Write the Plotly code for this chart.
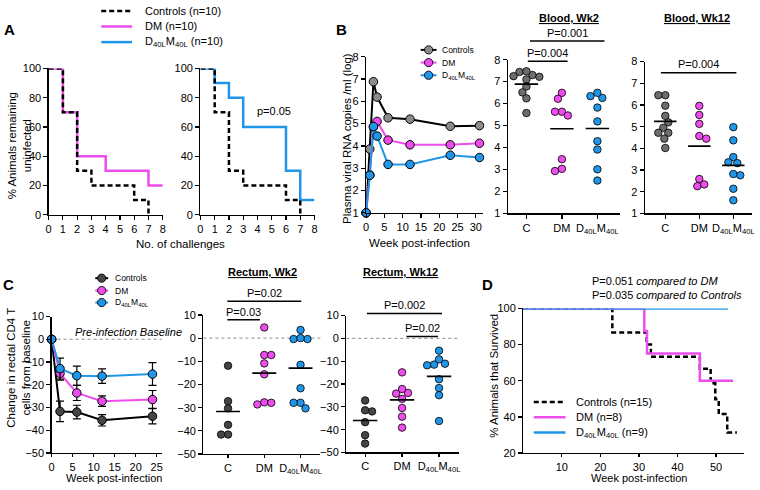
import numpy as np
import plotly.graph_objects as go

W, H = 760, 490
FONT = "Arial, 'Liberation Sans', Helvetica, sans-serif"
PINK = "#EC4DEC"
BLUE = "#2196E8"
GREY_MK = "#8C8C8C"
GREY_DOT = "#6E6E6E"
GREY_DARK = "#454545"
DASH = "5px,3px"
D40 = "D<sub>40L</sub>M<sub>40L</sub>"
CATS = ["C", "DM", D40]

# ---------------- data ----------------
# A: % animals remaining uninfected vs number of challenges
A_ctrl_x = [0, 1, 2, 3, 6, 7]
A_ctrl_y = [100, 70, 30, 20, 10, 0]
A_dm_x = [0, 1, 2, 4, 7, 8]
A_dm_y = [100, 70, 40, 30, 20, 20]
A_d40_x = [0, 1, 2, 3, 6, 7, 8]
A_d40_y = [100, 90, 80, 60, 30, 10, 10]
A_xticks = list(range(0, 9))
A_yticks = [0, 20, 40, 60, 80, 100]

# B: plasma viral RNA (log copies/ml), group means
B_weeks = [0, 1, 2, 3, 6, 12, 23, 31]
B_ctrl = [1.0, 3.86, 6.88, 6.19, 5.26, 5.20, 4.88, 4.91]
B_dm = [1.0, 2.70, 4.85, 5.10, 4.26, 4.05, 4.05, 4.12]
B_d40 = [1.0, 2.68, 4.87, 4.44, 3.17, 3.17, 3.58, 3.48]
B_xticks = [0, 5, 10, 15, 20, 25, 30]
B_yticks = [1, 2, 3, 4, 5, 6, 7, 8]

# Blood Wk2 / Wk12 individual animals (log copies/ml)
BW2_C = [7.44, 7.22, 7.30, 7.25, 7.47, 7.10, 6.78, 6.51, 6.24, 5.57]
BW2_DM = [6.49, 6.22, 5.63, 5.63, 5.46, 3.47, 2.93, 3.03]
BW2_D40 = [6.34, 6.26, 6.49, 5.82, 5.19, 4.29, 3.91, 3.01, 2.50]
BW12_C = [6.45, 6.45, 5.97, 5.50, 5.20, 4.95, 4.72, 4.72, 4.45, 4.02]
BW12_DM = [5.96, 5.54, 5.13, 4.57, 4.45, 2.59, 2.26, 2.34]
BW12_D40 = [4.98, 4.37, 3.60, 3.36, 3.32, 2.76, 2.82, 2.14, 1.61]

# C: change in rectal CD4 T cells from baseline (mean +/- SEM)
C_weeks = [0, 2, 6, 12, 24]
C_ctrl = [0, -31.7, -32.0, -35.6, -33.8]
C_ctrl_err = [0, 4.5, 3.0, 2.5, 3.4]
C_dm = [0, -15.0, -23.6, -27.2, -26.5]
C_dm_err = [0, 3.0, 3.3, 2.3, 4.0]
C_d40 = [0, -12.9, -16.0, -16.2, -15.3]
C_d40_err = [0, 4.6, 4.2, 3.2, 5.0]
C_xticks = [0, 5, 10, 15, 20, 25]
C_yticks = [-50, -40, -30, -20, -10, 0, 10]

# Rectum Wk2 / Wk12 individual animals
RW2_C = [-11.9, -27.2, -30.3, -37.4, -41.6, -41.6]
RW2_DM = [4.6, -7.3, -7.3, -10.9, -15.6, -27.7, -28.6, -27.9]
RW2_D40 = [3.5, -0.4, -0.4, 0.0, -11.5, -21.6, -27.9, -27.9, -30.3]
RW12_C = [-27.2, -32.0, -31.5, -36.7, -42.4, -46.1]
RW12_DM = [-14.9, -23.9, -24.2, -22.2, -26.5, -30.5, -34.3, -39.1]
RW12_D40 = [-5.4, -9.2, -11.5, -11.1, -11.8, -17.9, -21.8, -24.9, -36.2]

# D: % animals that survived
D_ctrl_t = [0, 23.1, 32.0, 33.1, 45.8, 48.6, 49.8, 50.7, 52.9, 55.4]
D_ctrl_s = [100, 86.7, 80.0, 73.3, 66.7, 58.6, 49.8, 41.6, 31.4, 31.4]
D_dm_t = [0, 31.4, 32.1, 45.8, 54.4]
D_dm_s = [100, 87.5, 75.0, 60.0, 60.0]
D_d40_t = [0, 53.1]
D_d40_s = [100, 100]
D_xticks = [10, 20, 30, 40, 50]
D_yticks = [20, 40, 60, 80, 100]

# ---------------- figure ----------------
fig = go.Figure()
AX = {}


def add_axes(name, left, right, top, bottom, xr, yr, xt, yt, xtt=None, xticklen=4):
    n = len(AX) + 1
    s = '' if n == 1 else str(n)
    base = dict(showline=True, linecolor='black', linewidth=1.3, ticks='outside',
                ticklen=4, tickwidth=1.2, tickcolor='black', showgrid=False,
                zeroline=False, fixedrange=True,
                tickfont=dict(family=FONT, size=11, color='black'))
    xa = dict(base, domain=[left / W, right / W], range=xr, anchor='y' + s,
              tickmode='array', tickvals=xt, ticklen=xticklen)
    if xtt is not None:
        xa['ticktext'] = xtt
    ya = dict(base, domain=[1 - bottom / H, 1 - top / H], range=yr, anchor='x' + s,
              tickmode='array', tickvals=yt)
    fig.update_layout(**{'xaxis' + s: xa, 'yaxis' + s: ya})
    AX[name] = dict(x='x' + s, y='y' + s,
                    ppx=(right - left) / (xr[1] - xr[0]),
                    ppy=(bottom - top) / (yr[1] - yr[0]))


add_axes('A1', 46, 161, 64, 214, [0, 8], [0, 100], A_xticks, A_yticks)
add_axes('A2', 199, 314, 64, 214, [0, 8], [0, 100], A_xticks, A_yticks)
add_axes('B', 366, 484, 52, 212, [0, 32], [1, 8], B_xticks, B_yticks)
add_axes('BW2', 509, 622, 55, 212.7, [-0.52, 2.64], [1, 8], [0, 1, 2], B_yticks, CATS)
add_axes('BW12', 647, 755, 57, 212.7, [-0.6, 2.55], [1, 8], [0, 1, 2], B_yticks, CATS)
add_axes('C', 49, 160, 318.3, 458.3, [0, 26.2], [-50, 10], C_xticks, C_yticks, xticklen=3)
add_axes('RW2', 202, 320, 316.7, 459.3, [-0.68, 2.55], [-50, 10], [0, 1, 2], C_yticks, CATS, xticklen=3)
add_axes('RW12', 346, 460, 317.3, 457.7, [-0.51, 2.55], [-50, 10], [0, 1, 2], C_yticks, CATS, xticklen=3)
add_axes('D', 524.4, 746.7, 310, 458.3, [0, 57.2], [20, 100], D_xticks, D_yticks, xticklen=3)


def trace(name, **kw):
    ax = AX[name]
    kw.setdefault('showlegend', False)
    kw.setdefault('hoverinfo', 'skip')
    kw.setdefault('cliponaxis', False)
    fig.add_trace(go.Scatter(xaxis=ax['x'], yaxis=ax['y'], **kw))


def step(name, x, y, color, dash=None, width=2.5):
    trace(name, x=x, y=y, mode='lines',
          line=dict(shape='hv', color=color, width=width, dash=dash))


# Panel A
step('A1', A_dm_x, A_dm_y, PINK)
step('A1', A_ctrl_x, A_ctrl_y, 'black', DASH)
step('A2', A_d40_x, A_d40_y, BLUE)
step('A2', A_ctrl_x, A_ctrl_y, 'black', DASH)


# Panel B line
def line_mk(name, x, y, lcol, mcol, err=None, size=8.5):
    kw = {}
    if err is not None:
        kw['error_y'] = dict(type='data', array=err, color='black', thickness=1.2, width=4)
    trace(name, x=x, y=y, mode='lines+markers', line=dict(color=lcol, width=2),
          marker=dict(size=size, color=mcol, line=dict(color='black', width=1)), **kw)


line_mk('B', B_weeks, B_ctrl, 'black', GREY_MK)
line_mk('B', B_weeks, B_dm, PINK, PINK)
line_mk('B', B_weeks, B_d40, BLUE, BLUE)


# beeswarm placement of individual points (computed in pixel space)
def swarm(vals, ppx, ppy, d=7.0, stepx=1.0):
    vals = np.asarray(vals, float)
    order = np.argsort(-vals, kind='stable')
    placed = []
    off = np.zeros(len(vals))
    for j, i in enumerate(order):
        yp = vals[i] * ppy
        k = 0
        chosen = None
        while chosen is None:
            if k == 0:
                cands = [0.0]
            else:
                cands = [-k * stepx, k * stepx] if j % 2 else [k * stepx, -k * stepx]
            for c in cands:
                if all((c - a) ** 2 + (yp - b) ** 2 >= d * d for a, b in placed):
                    chosen = c
                    break
            k += 1
        placed.append((chosen, yp))
        off[i] = chosen / ppx
    return off


def dotplot(name, groups, colors, size=7.5):
    ax = AX[name]
    for i, (vals, col) in enumerate(zip(groups, colors)):
        off = swarm(vals, ax['ppx'], ax['ppy'])
        trace(name, x=i + off, y=vals, mode='markers',
              marker=dict(size=size, color=col, line=dict(color='black', width=0.8)))
        m = float(np.mean(vals))
        trace(name, x=[i - 0.33, i + 0.33], y=[m, m], mode='lines',
              line=dict(color='black', width=1.6))


dotplot('BW2', [BW2_C, BW2_DM, BW2_D40], [GREY_DOT, PINK, BLUE])
dotplot('BW12', [BW12_C, BW12_DM, BW12_D40], [GREY_DOT, PINK, BLUE])

# Panel C line
for nm in ['C', 'RW2', 'RW12']:
    xr = AX[nm]['x']
    fig.add_shape(type='line', xref=xr + ' domain', yref=AX[nm]['y'], x0=0, x1=1, y0=0, y1=0,
                  line=dict(color='#8a8a8a', width=1, dash='dot'), layer='below')
line_mk('C', C_weeks, C_ctrl, 'black', GREY_DARK, C_ctrl_err)
line_mk('C', C_weeks, C_dm, PINK, PINK, C_dm_err)
line_mk('C', C_weeks, C_d40, BLUE, BLUE, C_d40_err)

dotplot('RW2', [RW2_C, RW2_DM, RW2_D40], [GREY_DARK, PINK, BLUE])
dotplot('RW12', [RW12_C, RW12_DM, RW12_D40], [GREY_DARK, PINK, BLUE])

# Panel D
step('D', D_ctrl_t, D_ctrl_s, 'black', DASH)
step('D', D_dm_t, D_dm_s, PINK)
step('D', D_d40_t, D_d40_s, BLUE)


# ---------------- annotations ----------------
def text(x, y, s, size=11, xanchor='center', yanchor='middle', angle=0):
    fig.add_annotation(x=x / W, y=1 - y / H, xref='paper', yref='paper', text=s,
                       showarrow=False, xanchor=xanchor, yanchor=yanchor, textangle=angle,
                       font=dict(size=size, family=FONT, color='black'))


def pbar(name, c0, c1, ybar, label):
    ax = AX[name]
    fig.add_shape(type='line', xref=ax['x'], yref='paper', x0=c0, x1=c1,
                  y0=1 - ybar / H, y1=1 - ybar / H, line=dict(color='black', width=1.5))
    fig.add_annotation(xref=ax['x'], yref='paper', x=(c0 + c1) / 2, y=1 - (ybar - 8.5) / H,
                       text=label, showarrow=False, xanchor='center', yanchor='middle',
                       font=dict(size=11, family=FONT, color='black'))


def leg_line(x0, x1, y, color, dash=None, width=2.5):
    fig.add_shape(type='line', xref='paper', yref='paper', x0=x0 / W, x1=x1 / W,
                  y0=1 - y / H, y1=1 - y / H, line=dict(color=color, width=width, dash=dash))


def leg_dot(cx, cy, fill, r=4.2):
    fig.add_shape(type='circle', xref='paper', yref='paper', x0=(cx - r) / W, x1=(cx + r) / W,
                  y0=1 - (cy + r) / H, y1=1 - (cy - r) / H, fillcolor=fill,
                  line=dict(color='black', width=0.9))


# panel letters
for L, x, y in [('A', 7, 24), ('B', 341, 24), ('C', 6, 285), ('D', 488, 285)]:
    text(x, y, '<b>' + L + '</b>', size=15)

# A legend
for y, col, dash, lab in [(5, 'black', DASH, 'Controls (n=10)'), (21, PINK, None, 'DM (n=10)'),
                          (37, BLUE, None, D40 + ' (n=10)')]:
    leg_line(99, 130, y, col, dash)
    text(141, y, lab, xanchor='left')
text(17, 143, '% Animals remaining<br>uninfected', size=11.5, angle=-90)
text(179, 244, 'No. of challenges', size=11.5)
text(273, 108, 'p=0.05')

# B legend & titles
for y, lcol, mcol, lab in [(45, 'black', GREY_MK, 'Controls'), (58, PINK, PINK, 'DM'),
                           (71, BLUE, BLUE, D40)]:
    leg_line(421, 437, y, lcol, None, 2)
    leg_dot(429, y, mcol)
    text(440, y, lab, size=8.5, xanchor='left')
text(346, 136, 'Plasma viral RNA copies /ml (log)', size=11.5, angle=-90)
text(420, 243, 'Week post-infection', size=11.5)

text(570, 12, '<b><u>Blood, Wk2</u></b>')
text(700, 12, '<b><u>Blood, Wk12</u></b>')
pbar('BW2', 0.1, 2.2, 36, 'P=0.001')
pbar('BW2', 0.04, 1.16, 56.7, 'P=0.004')
pbar('BW12', -0.13, 2.09, 68.3, 'P=0.004')

# C legend & titles
for y, lcol, mcol, lab in [(279, 'black', GREY_DARK, 'Controls'), (291.7, PINK, PINK, 'DM'),
                           (304, BLUE, BLUE, D40)]:
    leg_line(93, 106, y, lcol, None, 2)
    leg_dot(99.5, y, mcol)
    text(111, y, lab, size=8.5, xanchor='left')
text(16, 371, 'Change in rectal CD4 T<br>cells from baseline', size=11.5, angle=-90)
text(112, 483.5, 'Week post-infection', size=11)
text(127, 334, '<i>Pre-infection Baseline</i>')

text(262, 273, '<b><u>Rectum, Wk2</u></b>')
text(401, 273, '<b><u>Rectum, Wk12</u></b>')
pbar('RW2', -0.02, 2.02, 302.7, 'P=0.02')
pbar('RW2', -0.02, 0.88, 321.7, 'P=0.03')
pbar('RW12', 0.05, 2.08, 315.3, 'P=0.002')
pbar('RW12', 1.12, 1.97, 338.7, 'P=0.02')

# D legend & titles
for y, col, dash, lab in [(406, 'black', DASH, 'Controls (n=15)'), (421.7, PINK, None, 'DM (n=8)'),
                          (437.3, BLUE, None, D40 + ' (n=9)')]:
    leg_line(535, 567, y, col, dash)
    text(576, y, lab, xanchor='left')
text(592, 282, 'P=0.051 <i>compared to DM</i>', xanchor='left')
text(592, 296, 'P=0.035 <i>compared to Controls</i>', xanchor='left')
text(495, 379, '% Animals that Survived', size=11.5, angle=-90)
text(641, 483.5, 'Week post-infection', size=11)

fig.update_layout(width=W, height=H, margin=dict(l=0, r=0, t=0, b=0),
                  paper_bgcolor='white', plot_bgcolor='white', showlegend=False,
                  font=dict(family=FONT, color='black'))

fig.write_html("out.html", config={'displayModeBar': False, 'staticPlot': True},
               post_script="document.body.style.margin='0px';")
